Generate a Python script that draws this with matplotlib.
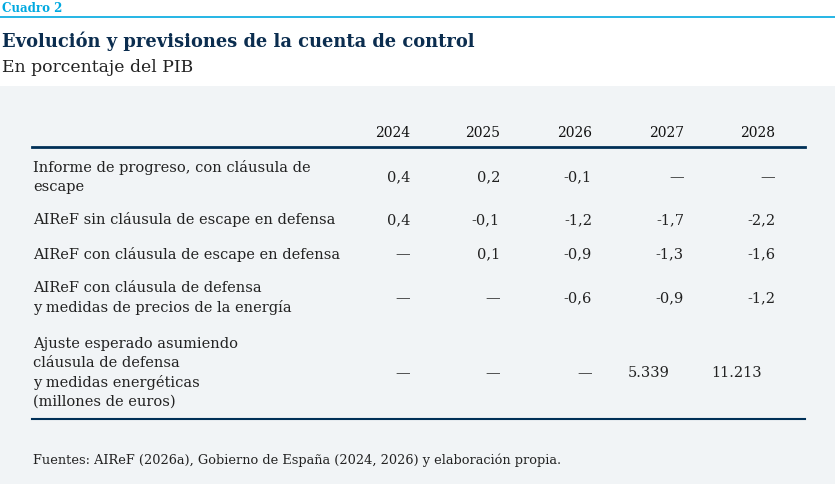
import matplotlib
matplotlib.use("Agg")
import matplotlib.pyplot as plt
from matplotlib.patches import Rectangle
from matplotlib.lines import Line2D

W, H = 835, 485
years = ["2024", "2025", "2026", "2027", "2028"]
row_labels = [
    "Informe de progreso, con cláusula de\nescape",
    "AIReF sin cláusula de escape en defensa",
    "AIReF con cláusula de escape en defensa",
    "AIReF con cláusula de defensa\ny medidas de precios de la energía",
    "Ajuste esperado asumiendo\ncláusula de defensa\ny medidas energéticas\n(millones de euros)",
]
values = [
    ["0,4", "0,2", "-0,1", "—", "—"],
    ["0,4", "-0,1", "-1,2", "-1,7", "-2,2"],
    ["—", "0,1", "-0,9", "-1,3", "-1,6"],
    ["—", "—", "-0,6", "-0,9", "-1,2"],
    ["—", "—", "—", "5.339", "11.213"],
]
row_y = [177, 220, 254, 298, 373]
col_x = [410, 500, 592, 684, 775]
last_row_x = [410, 500, 592, 670, 762]

plt.rcParams['font.family'] = ['DejaVu Serif']
fig = plt.figure(figsize=(W / 100, H / 100), dpi=100)
fig.patch.set_facecolor("white")

def fx(x): return x / W
def fy(y): return 1 - y / H

navy = "#0b2d4f"
dark = "#222222"
fig.patches.append(Rectangle((0, 0), 1, fy(87), transform=fig.transFigure,
                             facecolor="#f1f4f6", edgecolor="none", zorder=0))
fig.lines.append(Line2D([0, 1], [fy(18), fy(18)], transform=fig.transFigure,
                        color="#00a9e0", lw=1.2))
fig.lines.append(Line2D([fx(32), fx(805)], [fy(148), fy(148)], transform=fig.transFigure,
                        color="#003057", lw=2))
fig.lines.append(Line2D([fx(32), fx(805)], [fy(420), fy(420)], transform=fig.transFigure,
                        color="#003057", lw=1.5))

fig.text(fx(2), fy(9), "Cuadro 2", color="#00a9e0", fontsize=8.6, fontweight="bold", va="center")
fig.text(fx(2), fy(41), "Evolución y previsiones de la cuenta de control", color=navy,
         fontsize=12.9, fontweight="bold", va="center")
fig.text(fx(2), fy(68), "En porcentaje del PIB", color=dark, fontsize=12.4, va="center")

for yr, x in zip(years, col_x):
    fig.text(fx(x), fy(133), yr, ha="right", va="center", fontsize=10, color="#111111",
             fontweight="medium")

for i, (lab, vals, y) in enumerate(zip(row_labels, values, row_y)):
    fig.text(fx(33), fy(y), lab, ha="left", va="center", fontsize=10.5, color=dark, linespacing=1.45)
    xs = last_row_x if i == 4 else col_x
    for v, x in zip(vals, xs):
        fig.text(fx(x), fy(y), v, ha="right", va="center", fontsize=10.5, color=dark)

fig.text(fx(33), fy(460), "Fuentes: AIReF (2026a), Gobierno de España (2024, 2026) y elaboración propia.",
         ha="left", va="center", fontsize=9.3, color=dark)

fig.savefig("out.png", dpi=100)
